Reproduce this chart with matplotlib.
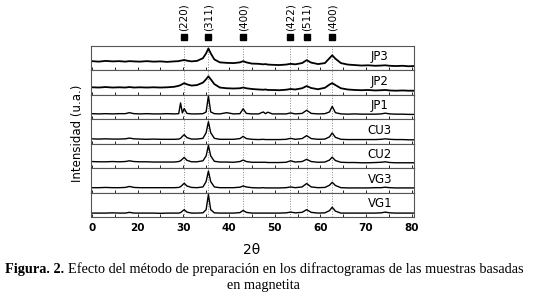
import matplotlib
matplotlib.use("Agg")
import matplotlib.pyplot as plt
import matplotlib.transforms as mtransforms

two_theta = [10, 11.5, 13, 14.5, 16, 17.3, 18.2, 19.2, 20.5, 22, 23.5, 25, 26.5, 28,
             29.0, 29.4, 29.8, 30.2, 30.8, 31.8, 33, 34.3, 35.0, 35.5, 36.0, 36.8,
             38, 39.5, 41, 42.4, 43.1, 43.8, 45, 46.5, 47.5, 48.0, 48.5, 49.5, 51,
             52.5, 53.5, 54.5, 56.0, 57.0, 58.0, 59.5, 61.0, 62.0, 62.6, 63.3, 64.5,
             66, 67.5, 69, 70.5, 72, 73.3, 74.2, 75.2, 76.5, 78, 79.3, 80.5]

samples = ["JP3", "JP2", "JP1", "CU3", "CU2", "VG3", "VG1"]

# intensities, as a fraction of each panel height
jp3 = [.38, .36, .39, .37, .38, .36, .38, .37, .36, .38, .36, .37, .35, .37,
       .38, .40, .41, .43, .40, .37, .39, .50, .70, .90, .70, .45,
       .33, .31, .30, .33, .38, .33, .28, .27, .25, .26, .24, .23, .22,
       .24, .27, .25, .30, .42, .32, .26, .30, .50, .62, .48, .30,
       .24, .22, .20, .21, .19, .20, .21, .19, .18, .19, .17, .18]
jp2 = [.31, .30, .32, .30, .31, .30, .32, .30, .31, .30, .31, .30, .31, .33,
       .37, .40, .44, .48, .43, .38, .40, .50, .64, .76, .64, .44,
       .30, .27, .26, .27, .30, .27, .24, .22, .21, .22, .20, .20, .19,
       .21, .24, .22, .27, .36, .28, .23, .29, .42, .48, .40, .27,
       .22, .20, .19, .20, .18, .19, .20, .18, .17, .18, .17, .17]
jp1 = [.23, .22, .23, .22, .23, .23, .27, .23, .22, .23, .22, .22, .23, .22,
       .23, .67, .26, .44, .24, .22, .22, .23, .30, .96, .30, .23,
       .22, .27, .22, .23, .43, .24, .22, .22, .30, .23, .29, .22, .22,
       .22, .26, .22, .24, .37, .24, .22, .23, .30, .53, .27, .22,
       .21, .22, .21, .21, .21, .22, .25, .22, .21, .21, .20, .20]
cu3 = [.20, .19, .20, .19, .19, .20, .23, .20, .19, .18, .19, .18, .18, .18,
       .19, .22, .30, .37, .25, .19, .19, .22, .45, .90, .45, .22,
       .18, .18, .18, .21, .30, .21, .18, .17, .18, .17, .17, .17, .17,
       .18, .22, .18, .21, .33, .21, .18, .19, .28, .44, .26, .18,
       .17, .17, .17, .17, .17, .18, .20, .18, .17, .17, .16, .16]
cu2 = [.27, .26, .26, .27, .26, .27, .30, .27, .26, .26, .25, .25, .25, .25,
       .27, .30, .37, .44, .32, .26, .26, .30, .50, .93, .50, .28,
       .25, .25, .24, .27, .33, .27, .24, .24, .24, .24, .23, .23, .23,
       .24, .30, .25, .27, .36, .27, .24, .25, .33, .45, .31, .24,
       .23, .23, .22, .22, .23, .24, .26, .23, .22, .22, .22, .22]
vg3 = [.20, .20, .21, .20, .20, .21, .25, .21, .20, .20, .20, .20, .20, .20,
       .21, .24, .31, .38, .27, .21, .20, .23, .45, .88, .45, .23,
       .20, .20, .20, .22, .27, .23, .20, .19, .20, .19, .19, .19, .19,
       .20, .23, .20, .23, .37, .23, .20, .21, .30, .42, .29, .20,
       .19, .19, .19, .19, .20, .20, .22, .20, .19, .19, .19, .19]
vg1 = [.16, .16, .16, .17, .16, .16, .19, .16, .16, .16, .16, .15, .16, .16,
       .16, .18, .24, .30, .20, .16, .16, .17, .30, .92, .30, .17,
       .16, .16, .16, .18, .27, .19, .16, .16, .16, .16, .16, .16, .16,
       .17, .20, .17, .19, .30, .19, .16, .17, .26, .40, .24, .16,
       .16, .16, .16, .16, .16, .17, .20, .17, .16, .16, .16, .16]
traces = [jp3, jp2, jp1, cu3, cu2, vg3, vg1]

# magnetite reflections
peak_pos = [30.1, 35.5, 43.1, 53.4, 57.0, 62.6]
peak_hkl = ["(220)", "(311)", "(400)", "(422)", "(511)", "(400)"]

xtick_pos = [10, 20, 30, 40, 50, 60, 70, 80]
xtick_lab = ["0", "20", "30", "40", "50", "60", "70", "80"]

fig = plt.figure(figsize=(5.35, 2.97), dpi=100)
fig.patch.set_facecolor("white")

left, right = 91 / 535, 414 / 535
top, bottom = 1 - 46 / 297, 1 - 217 / 297
h = (top - bottom) / len(samples)

axes = []
for i, (name, y) in enumerate(zip(samples, traces)):
    ax = fig.add_axes([left, top - (i + 1) * h, right - left, h])
    lw = 1.3 if i < 2 else 1.0
    ax.plot(two_theta, y, color="black", lw=lw)
    for p in peak_pos:
        ax.axvline(p, color="#888888", ls=":", lw=0.7, zorder=0)
    ax.text(73, 0.55, name, ha="center", va="center", fontsize=8.5)
    ax.set_xlim(9.8, 80.5)
    ax.set_ylim(0, 1)
    ax.set_yticks([])
    for s in ax.spines.values():
        s.set_color("#555555")
        s.set_linewidth(0.8)
    ax.set_xticks(xtick_pos)
    ax.set_xticks(range(15, 80, 10), minor=True)
    ax.tick_params(axis="x", which="both", direction="in", length=2.5, width=0.6)
    if i < len(samples) - 1:
        ax.set_xticklabels([])
    else:
        ax.set_xticklabels(xtick_lab, fontsize=7.5, fontweight="bold")
        ax.tick_params(axis="x", pad=4)
    axes.append(ax)

# reflection markers above the top panel
ax0 = axes[0]
trans = mtransforms.blended_transform_factory(ax0.transData, ax0.transAxes)
for p, lab in zip(peak_pos, peak_hkl):
    ax0.plot([p], [1.38], marker="s", color="black", ms=5, transform=trans, clip_on=False)
    ax0.text(p, 1.62, lab, rotation=90, ha="center", va="bottom", fontsize=7.5,
             transform=trans)

fig.text(77 / 535, 1 - 133 / 297, "Intensidad (u.a.)", rotation=90, ha="center",
         va="center", fontsize=8.5)
fig.text(252 / 535, 1 - 250 / 297, "2θ", ha="center", va="center", fontsize=10)

cap1 = fig.text(5 / 535, 1 - 270 / 297, "Figura. 2.", ha="left", va="center",
                fontsize=10.3, fontweight="bold", family="Liberation Serif")
axes[-1].annotate("Efecto del método de preparación en los difractogramas de las muestras basadas",
                  xy=(1, 0), xycoords=cap1, xytext=(3, 0), textcoords="offset points",
                  ha="left", va="bottom", fontsize=10.3, family="Liberation Serif",
                  annotation_clip=False)
fig.text(263 / 535, 1 - 286 / 297, "en magnetita", ha="center", va="center",
         fontsize=10.3, family="Liberation Serif")

fig.savefig("out.png", dpi=100)
